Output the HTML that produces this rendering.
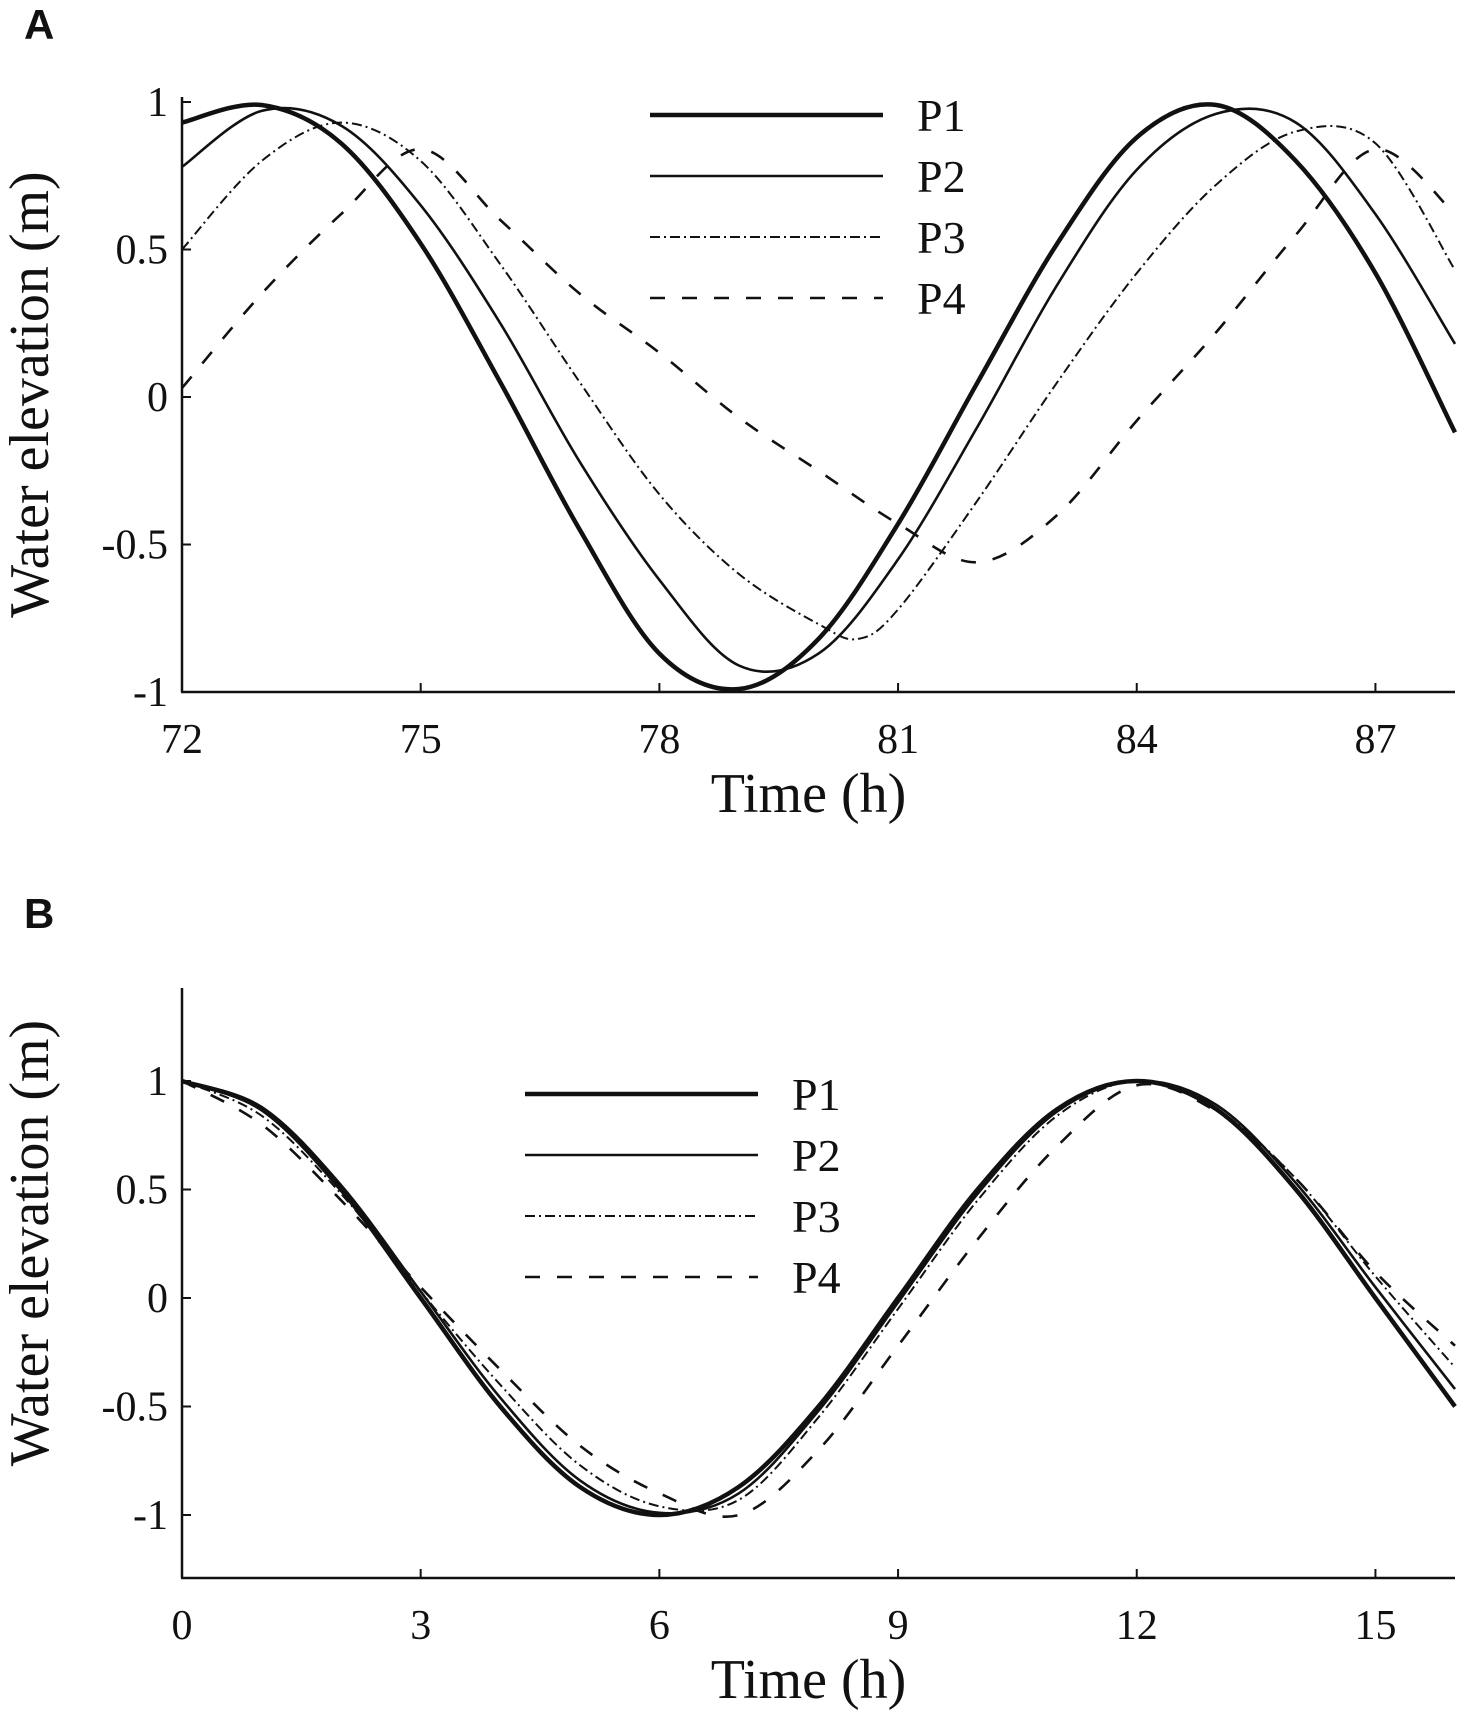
<!DOCTYPE html>
<html><head><meta charset="utf-8"><style>
html,body{margin:0;padding:0;background:#fff}
svg text{font-family:"Liberation Serif",serif;fill:#111}
</style></head><body>
<svg id="chart" width="1477" height="1715" viewBox="0 0 1477 1715" xmlns="http://www.w3.org/2000/svg">
<text x="24" y="39" style="font-family:'Liberation Sans',sans-serif;font-weight:bold;font-size:42px">A</text>
<text x="24" y="928" style="font-family:'Liberation Sans',sans-serif;font-weight:bold;font-size:42px">B</text>
<g id="pa"></g>
<g id="pb"></g>
</svg>
<script>
// Panel A data
const seriesNames = ["P1","P2","P3","P4"];
const aTicksX = [72,75,78,81,84,87];
const aTicksY = [-1,-0.5,0,0.5,1];
const aP1t = [72,73,74,75,76,77,78,79,80,81,82,83,84,85,86,87,88];
const aP1v = [0.93,0.99,0.86,0.52,0.05,-0.45,-0.87,-0.99,-0.82,-0.43,0.05,0.52,0.88,0.99,0.8,0.42,-0.12];
const aP2t = [72,73,74,75,76,77,78,79,80,81,82,83,84,85,86,87,88];
const aP2v = [0.78,0.97,0.92,0.65,0.25,-0.22,-0.62,-0.91,-0.87,-0.55,-0.1,0.38,0.77,0.96,0.93,0.62,0.18];
const aP3t = [72,73,74,75,76,77,78,79,80,80.5,81,82,83,84,85,86,87,88];
const aP3v = [0.5,0.8,0.93,0.8,0.45,0.05,-0.33,-0.6,-0.77,-0.82,-0.72,-0.35,0.05,0.42,0.72,0.9,0.86,0.43];
const aP4t = [72,73,74,75,76,77,78,79,80,81,82,83,84,85,86,87,88];
const aP4v = [0.03,0.35,0.62,0.84,0.6,0.35,0.15,-0.07,-0.25,-0.43,-0.56,-0.4,-0.08,0.22,0.55,0.84,0.62];
// Panel B data
const bTicksX = [0,3,6,9,12,15];
const bTicksY = [-1,-0.5,0,0.5,1];
const bP1t = [0,1,2,3,4,5,6,7,8,9,10,11,12,13,14,15,16];
const bP1v = [1,0.87,0.5,0,-0.5,-0.87,-1,-0.87,-0.5,0,0.5,0.87,1,0.87,0.5,0,-0.5];
const bP2t = [0,1,2,3,4,5,6,7,8,9,10,11,12,13,14,15,16];
const bP2v = [1,0.88,0.52,0.03,-0.46,-0.84,-0.99,-0.9,-0.52,-0.02,0.48,0.86,1,0.89,0.53,0.05,-0.42];
const bP3t = [0,1,2,3,4,5,6,7,8,9,10,11,12,13,14,15,16];
const bP3v = [1,0.84,0.48,0.03,-0.4,-0.77,-0.96,-0.93,-0.55,-0.05,0.45,0.84,1,0.87,0.55,0.1,-0.32];
const bP4t = [0,1,2,3,4,5,6,7,8,9,10,11,12,13,14,15,16];
const bP4v = [1,0.8,0.45,0.05,-0.33,-0.68,-0.9,-1.0,-0.7,-0.22,0.27,0.7,0.98,0.86,0.55,0.12,-0.22];

const NS="http://www.w3.org/2000/svg";
const styles=[{w:4.5,d:""},{w:2.6,d:""},{w:2,d:"10 4 2 4"},{w:2.6,d:"15 17"}];
function mk(tag,attrs,parent){const e=document.createElementNS(NS,tag);for(const k in attrs)e.setAttribute(k,attrs[k]);parent.appendChild(e);return e;}
function path(pts){let d="M"+pts[0][0]+","+pts[0][1];for(let i=0;i<pts.length-1;i++){const p0=pts[Math.max(0,i-1)],p1=pts[i],p2=pts[i+1],p3=pts[Math.min(pts.length-1,i+2)];
const c1=[p1[0]+(p2[0]-p0[0])/6,p1[1]+(p2[1]-p0[1])/6],c2=[p2[0]-(p3[0]-p1[0])/6,p2[1]-(p3[1]-p1[1])/6];d+=" C"+c1+" "+c2+" "+p2;}return d;}
function panel(g,cfg){
  const sx=v=>cfg.x0+(v-cfg.xmin)/(cfg.xmax-cfg.xmin)*(cfg.x1-cfg.x0);
  const sy=v=>cfg.y1v+(1-v)/2*(cfg.ym1-cfg.y1v);
  let ax=mk("line",{x1:cfg.x0,y1:cfg.axTop,x2:cfg.x0,y2:cfg.axBot,stroke:"#111","stroke-width":2.5},g);
  
  
  let bx=mk("line",{x1:cfg.x0-1,y1:cfg.axBot,x2:cfg.x1,y2:cfg.axBot,stroke:"#111","stroke-width":2.5},g);
  
  
  cfg.tx.forEach(v=>{const X=sx(v);
    mk("line",{x1:X,y1:cfg.axBot,x2:X,y2:cfg.axBot-9,stroke:"#111","stroke-width":2},g);
    const t=mk("text",{x:X,y:cfg.axBot+61,"text-anchor":"middle","font-size":42},g);t.textContent=v;
    
    });
  cfg.ty.forEach(v=>{const Y=sy(v);
    mk("line",{x1:cfg.x0,y1:Y,x2:cfg.x0+9,y2:Y,stroke:"#111","stroke-width":2},g);
    const t=mk("text",{x:cfg.x0-14,y:Y+14,"text-anchor":"end","font-size":42},g);t.textContent=v;
    
    });
  const xt=mk("text",{x:(cfg.x0+cfg.x1)/2-10,y:cfg.axBot+120,"text-anchor":"middle","font-size":56},g);xt.textContent="Time (h)";
  
  
  const cy=(cfg.axTop+cfg.axBot)/2+ (cfg.ytOff||0);
  const yt=mk("text",{x:0,y:0,"text-anchor":"middle","font-size":56,transform:"translate(48,"+cy+") rotate(-90)"},g);yt.textContent="Water elevation (m)";
  
  
  cfg.series.forEach((s,i)=>{const pts=s[0].map((t,j)=>[+sx(t).toFixed(1),+sy(s[1][j]).toFixed(1)]);
    const p=mk("path",{d:path(pts),fill:"none",stroke:"#111","stroke-width":styles[i].w,"stroke-dasharray":styles[i].d},g);
    
    });
  seriesNames.forEach((n,i)=>{const Y=cfg.lg[1]+i*61;
    const l=mk("line",{x1:cfg.lg[0],y1:Y,x2:cfg.lg[0]+233,y2:Y,stroke:"#111","stroke-width":styles[i].w,"stroke-dasharray":styles[i].d},g);
    
    
    const t=mk("text",{x:cfg.lg[0]+267,y:Y+16,"font-size":46},g);t.textContent=n;
    
    });
}
panel(document.getElementById("pa"),{x0:182,x1:1455,xmin:72,xmax:88,y1v:102,ym1:692,axTop:97,axBot:692,tx:aTicksX,ty:aTicksY,lg:[650,115],
  series:[[aP1t,aP1v],[aP2t,aP2v],[aP3t,aP3v],[aP4t,aP4v]]});
panel(document.getElementById("pb"),{x0:182,x1:1455,xmin:0,xmax:16,y1v:1081,ym1:1515,axTop:988,axBot:1578,tx:bTicksX,ty:bTicksY,lg:[525,1094],ytOff:-40,
  series:[[bP1t,bP1v],[bP2t,bP2v],[bP3t,bP3v],[bP4t,bP4v]]});
</script>
</body></html>
